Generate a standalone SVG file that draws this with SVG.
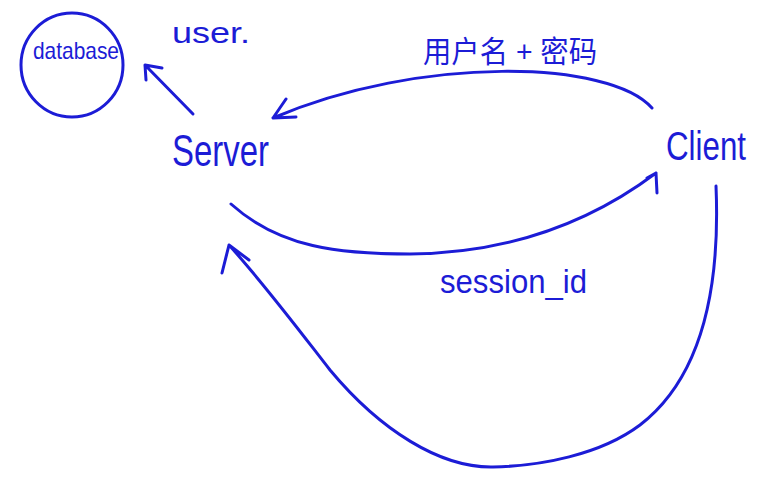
<svg xmlns="http://www.w3.org/2000/svg" width="781" height="492" viewBox="0 0 781 492">
  <style>
    .ink { fill: none; stroke: #1c1cd6; stroke-width: 3; stroke-linecap: round; stroke-linejoin: round; }
    .txt { fill: #1c1cd6; font-family: "Liberation Sans", "Noto Sans CJK SC", sans-serif; }
  </style>
  <rect width="781" height="492" fill="#ffffff"/>
  <g id="database">
    <ellipse class="ink" cx="72" cy="65" rx="51" ry="52"/>
    <text class="txt" x="33" y="59" font-size="24" textLength="86" lengthAdjust="spacingAndGlyphs">database</text>
  </g>
  <g id="server">
    <text class="txt" x="172" y="166" font-size="44" textLength="97" lengthAdjust="spacingAndGlyphs">Server</text>
  </g>
  <g id="client">
    <text class="txt" x="666" y="160" font-size="40" textLength="80" lengthAdjust="spacingAndGlyphs">Client</text>
  </g>
  <g id="connectors">
    <!-- server to database -->
    <path class="ink" d="M193 114 L145 65 M146 80 L145 65 L162 68"/>
    <text class="txt" x="172" y="43" font-size="30" textLength="78" lengthAdjust="spacingAndGlyphs">user.</text>
    <!-- client to server: username + password -->
    <path class="ink" d="M652 108 C610 60 420 55 273 118 M286 99 L273 118 L296 117"/>
    <text class="txt" x="423" y="62" font-size="30" textLength="174" lengthAdjust="spacingAndGlyphs">用户名 + 密码</text>
    <!-- server to client: session_id -->
    <path class="ink" d="M231 204 C280 248 340 254 410 254 C520 253 600 215 656 173 M647 178 L656 173 L657 193"/>
    <text class="txt" x="440" y="293" font-size="34" textLength="147" lengthAdjust="spacingAndGlyphs">session_id</text>
    <!-- client back to server -->
    <path class="ink" d="M716 186 C720 280 705 375 640 425 C600 455 540 466 493 467 C440 468 380 430 330 370 C295 325 265 285 229 245 M222 273 L229 245 L249 260"/>
  </g>
</svg>
